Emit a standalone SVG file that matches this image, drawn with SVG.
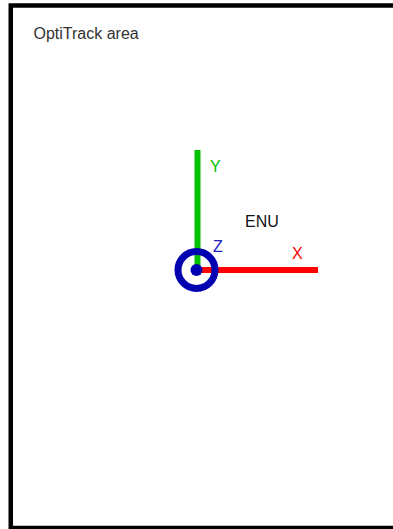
<svg xmlns="http://www.w3.org/2000/svg" width="393" height="529" viewBox="0 0 393 529">
<style>
text{font-family:"Liberation Sans",Arial,sans-serif;font-size:16px}
</style>
<rect width="393" height="529" fill="#fff"/>
<g id="area">
<rect x="10.75" y="5.5" width="400" height="522.5" fill="#fff" stroke="#000" stroke-width="4.5"/>
<text x="33.5" y="39" font-size="18" fill="#333">OptiTrack area</text>
</g>
<g id="connectors">
<line x1="197.5" y1="150" x2="197.5" y2="270" stroke="#00c000" stroke-width="6"/>
<line x1="197" y1="270" x2="318" y2="270" stroke="#ff0000" stroke-width="6"/>
</g>
<g id="z-axis">
<circle cx="196.5" cy="270" r="18.5" fill="none" stroke="#0000b0" stroke-width="7"/>
<circle cx="196.5" cy="270" r="6" fill="#0000b0"/>
</g>
<g id="labels">
<text x="210" y="172" fill="#00c000">Y</text>
<text x="245" y="227" fill="#111">ENU</text>
<text x="213" y="252" fill="#2020c0">Z</text>
<text x="292" y="259" fill="#ff0000">X</text>
</g>
</svg>
